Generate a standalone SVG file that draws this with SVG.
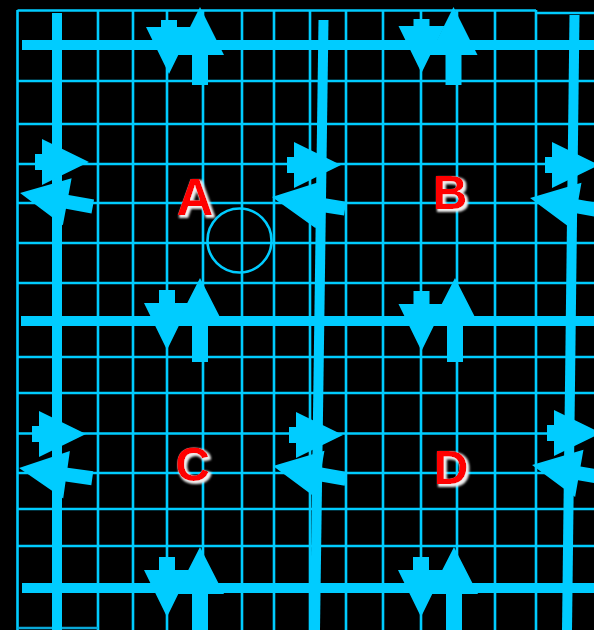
<svg xmlns="http://www.w3.org/2000/svg" xmlns:xlink="http://www.w3.org/1999/xlink" width="594" height="630" viewBox="0 0 594 630">
<style>
.g{stroke:#00ccff;stroke-width:2.6;fill:none}
.t{stroke:#00ccff;stroke-width:10;fill:none}
.a{fill:#00ccff}
.lbl{font-family:"Liberation Sans",Arial,sans-serif;font-weight:bold;font-size:48px;text-anchor:middle;fill:#ff0000;filter:url(#halo)}
</style>
<defs>
<filter id="halo" x="-30%" y="-30%" width="160%" height="160%">
<feMorphology in="SourceAlpha" operator="dilate" radius="1" result="d"/>
<feOffset in="d" dx="2" dy="2" result="o"/>
<feGaussianBlur in="o" stdDeviation="1" result="b"/>
<feFlood flood-color="#eeeeee" result="f"/>
<feComposite in="f" in2="b" operator="in" result="s"/>
<feMerge><feMergeNode in="s"/><feMergeNode in="SourceGraphic"/></feMerge>
</filter>
<polygon id="sA" points="0,-8 7,-8 7,-23 54,0 7,23 7,8 0,8"/>
<polygon id="sB" points="0,-8 13,-8 13,-23 60,0 13,23 13,8 0,8"/>
<polygon id="lA" points="0,-8 30,-8 30,-24 78,0 30,24 30,8 0,8"/>
<polygon id="lB" points="0,-8 37,-8 37,-24 84,0 37,24 37,8 0,8"/>
<polygon id="lC" points="0,-7 26,-7 26,-24 74,0 26,24 26,7 0,7"/>
</defs>
<rect x="0" y="0" width="594" height="630" fill="#000"/>
<g id="grid" class="g">
<path d="M17.5,10 V630 M98,10 V630 M133,10 V630 M167,10 V630 M203,10 V630 M242,10 V630 M274,10 V630 M310,10 V630 M346,10 V630 M383,10 V630 M421,10 V630 M457,10 V630 M495,10 V630 M536,10 V630"/>
<path d="M17.5,10.5 H536 M536,13 H594 M17.5,81 H594 M17.5,124 H594 M17.5,164 H594 M17.5,203 H594 M17.5,243 H594 M17.5,283 H594 M17.5,357 H594 M17.5,393 H594 M17.5,433.5 H594 M17.5,473 H594 M17.5,509 H594 M17.5,546 H594"/>
<path d="M17.5,628 H98" stroke="#0aa8d8"/>
<circle cx="239.5" cy="240.5" r="32"/>
</g>
<g id="connectors">
<g class="t">
<line x1="22" y1="45" x2="594" y2="45"/>
<line x1="21" y1="321" x2="594" y2="321"/>
<line x1="22" y1="588" x2="594" y2="588"/>
<line x1="57" y1="13" x2="57" y2="630"/>
<line x1="323.5" y1="20" x2="315" y2="630"/>
<line x1="574.5" y1="15" x2="567" y2="630"/>
</g>
<g class="a">
<use xlink:href="#sA" transform="translate(169,20) rotate(90)"/>
<use xlink:href="#lA" transform="translate(200,85) rotate(-90)"/>
<use xlink:href="#sA" transform="translate(421.5,19) rotate(90)"/>
<use xlink:href="#lA" transform="translate(453.5,85) rotate(-90)"/>
<use xlink:href="#sB" transform="translate(167,290) rotate(90)"/>
<use xlink:href="#lB" transform="translate(200,362) rotate(-90)"/>
<use xlink:href="#sB" transform="translate(421.5,291) rotate(90)"/>
<use xlink:href="#lB" transform="translate(455,362) rotate(-90)"/>
<use xlink:href="#sB" transform="translate(167,557) rotate(90)"/>
<use xlink:href="#lB" transform="translate(200,631) rotate(-90)"/>
<use xlink:href="#sB" transform="translate(421,557) rotate(90)"/>
<use xlink:href="#lB" transform="translate(454,631) rotate(-90)"/>
<use xlink:href="#sA" transform="translate(35,162)"/>
<use xlink:href="#lC" transform="translate(92.8,206.5) rotate(190.5)"/>
<use xlink:href="#sA" transform="translate(287,165)"/>
<use xlink:href="#lC" transform="translate(345.1,208.6) rotate(189)"/>
<use xlink:href="#sA" transform="translate(545,165)"/>
<use xlink:href="#lC" transform="translate(602.9,210.9) rotate(190)"/>
<use xlink:href="#sA" transform="translate(32,434)"/>
<use xlink:href="#lC" transform="translate(92.3,478.3) rotate(188)"/>
<use xlink:href="#sA" transform="translate(289,435)"/>
<use xlink:href="#lC" transform="translate(345.9,478.9) rotate(190)"/>
<use xlink:href="#sA" transform="translate(547,433)"/>
<use xlink:href="#lC" transform="translate(604.9,477.9) rotate(190)"/>
</g>
</g>
<g id="A"><text class="lbl" x="195" y="215" style="font-size:51px">A</text></g>
<g id="B"><text class="lbl" x="450" y="209">B</text></g>
<g id="C"><text class="lbl" x="192.5" y="481">C</text></g>
<g id="D"><text class="lbl" x="451" y="484">D</text></g>
</svg>
